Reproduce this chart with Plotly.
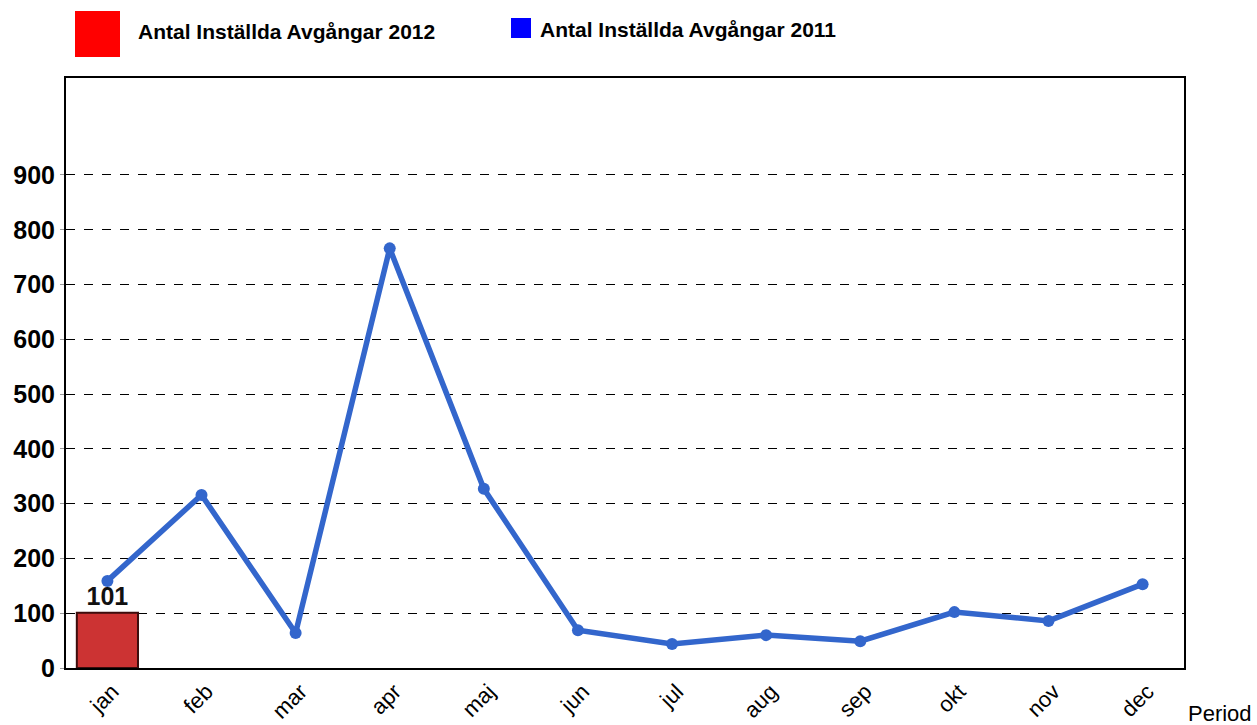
import plotly.graph_objects as go

months = ["jan", "feb", "mar", "apr", "maj", "jun", "jul", "aug", "sep", "okt", "nov", "dec"]
values_2011 = [159, 316, 64, 766, 327, 69, 44, 60, 49, 102, 86, 153]
months_2012 = ["jan"]
values_2012 = [101]
y_ticks = [0, 100, 200, 300, 400, 500, 600, 700, 800, 900]
name_2012 = "Antal Inställda Avgångar 2012"
name_2011 = "Antal Inställda Avgångar 2011"

W, H = 1257, 725
L, R, T, B = 66, 73, 78, 57
pw, ph = W - L - R, H - T - B

# helpers converting screenshot pixels to paper coordinates
def px(x):
    return (x - L) / pw

def py(y):
    return (H - B - y) / ph

font = "Liberation Sans, Arial, sans-serif"

fig = go.Figure()
fig.add_trace(go.Bar(
    x=months_2012, y=values_2012, name=name_2012,
    marker=dict(color="#CC3333", line=dict(color="#3d0d0d", width=2)),
    width=0.65, text=["<b>%d</b>" % v for v in values_2012], textposition="outside",
    textfont=dict(family=font, size=25, color="#111111"),
    cliponaxis=False, showlegend=False,
))
fig.add_trace(go.Scatter(
    x=months, y=values_2011, name=name_2011, mode="lines+markers",
    line=dict(color="#3366CC", width=5.5), marker=dict(color="#3366CC", size=12),
    showlegend=False,
))

fig.update_layout(
    width=W, height=H, margin=dict(l=L, r=R, t=T, b=B, autoexpand=False),
    plot_bgcolor="white", paper_bgcolor="white",
    font=dict(family=font, color="black"),
    xaxis=dict(
        type="category", categoryorder="array", categoryarray=months,
        range=[-0.44, 11.44], tickangle=-45, automargin=False,
        tickfont=dict(family=font, size=22, color="black"),
        ticklabelshift=5,
        showline=True, linecolor="black", linewidth=2, mirror=True,
        showgrid=False, ticks="", zeroline=False,
    ),
    yaxis=dict(
        range=[0, 1077], tickvals=y_ticks, automargin=False,
        tickfont=dict(family=font, size=25, color="black", weight="bold"),
        showline=True, linecolor="black", linewidth=2, mirror=True,
        showgrid=True, gridcolor="black", griddash="dash", gridwidth=1,
        ticks="outside", ticklen=4, tickcolor="#999999", zeroline=False,
    ),
    shapes=[
        dict(type="rect", xref="paper", yref="paper",
             x0=px(75), x1=px(120), y0=py(57), y1=py(11),
             fillcolor="#FF0000", line=dict(width=0)),
        dict(type="rect", xref="paper", yref="paper",
             x0=px(511), x1=px(531), y0=py(38), y1=py(18),
             fillcolor="#0000FF", line=dict(width=0)),
    ],
    annotations=[
        dict(text="<b>" + name_2012 + "</b>", xref="paper", yref="paper",
             x=px(136), y=py(32), xanchor="left", yanchor="middle",
             showarrow=False, font=dict(family=font, size=21, color="black")),
        dict(text="<b>" + name_2011 + "</b>", xref="paper", yref="paper",
             x=px(538), y=py(29), xanchor="left", yanchor="middle",
             showarrow=False, font=dict(family=font, size=21, color="black")),
        dict(text="Period", xref="paper", yref="paper",
             x=px(1186), y=py(713), xanchor="left", yanchor="middle",
             showarrow=False, font=dict(family=font, size=22, color="black")),
    ],
)

fig.write_html("out.html", config={"displayModeBar": False},
               post_script="document.body.style.margin='0px';")
